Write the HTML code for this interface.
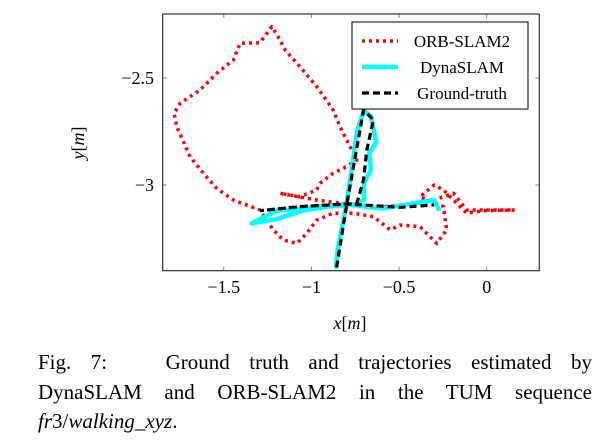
<!DOCTYPE html>
<html><head><meta charset="utf-8"><style>
body{margin:0;background:#fff;width:612px;height:446px;overflow:hidden;font-family:"Liberation Serif",serif;}
#cap{position:absolute;left:38px;top:348px;width:554px;font-size:21px;line-height:29.5px;color:#000;}
.jl{text-align:justify;text-align-last:justify;}
</style></head><body>
<svg id="chart" width="612" height="340" style="position:absolute;left:0;top:0" font-family="Liberation Serif, serif"></svg>
<div id="cap">
<div class="jl">Fig. 7:&nbsp;&nbsp; Ground truth and trajectories estimated by</div>
<div class="jl">DynaSLAM and ORB-SLAM2 in the TUM sequence</div>
<div><i>fr</i>3/<i>walking</i>_<i>xyz</i>.</div>
</div>
<script>
const xTicks=[-1.5,-1,-0.5,0];
const yTicks=[-2.5,-3];
const xTickLabels=["−1.5","−1","−0.5","0"];
const yTickLabels=["−2.5","−3"];
const orbX=[0.16,-0.02,-0.114,-0.19,-0.247,-0.30,-0.38,-0.247,-0.228,-0.285,-0.38,-0.494,-0.55,-0.646,-0.76,-0.875,-0.97,-1.027,-1.084,-1.16,-1.217,-1.293,-1.445,-1.54,-1.616,-1.692,-1.768,-1.783,-1.749,-1.635,-1.54,-1.445,-1.407,-1.293,-1.226,-1.179,-1.15,-1.065,-0.97,-0.875,-0.837,-0.741,-0.798,-0.875,-0.951,-0.97,-1.065,-1.179,-0.97,-0.76,-0.589,-0.38,-0.30,-0.19,-0.114,0.16];
const orbY=[-3.117,-3.12,-3.132,-3.07,-3.023,-3.0,-3.055,-3.1,-3.21,-3.273,-3.195,-3.187,-3.21,-3.148,-3.132,-3.132,-3.164,-3.226,-3.273,-3.257,-3.21,-3.117,-3.07,-3.016,-2.945,-2.868,-2.727,-2.665,-2.618,-2.556,-2.478,-2.416,-2.338,-2.335,-2.26,-2.322,-2.369,-2.447,-2.54,-2.65,-2.727,-2.883,-2.914,-2.945,-2.992,-3.023,-3.055,-3.039,-3.07,-3.093,-3.101,-3.085,-3.07,-3.039,-3.117,-3.117];
const gtX=[-0.856,-0.798,-0.76,-0.703,-0.646,-0.684,-0.703,-0.741,-1.065,-1.293,-1.065,-0.798,-0.494,-0.30];
const gtY=[-3.385,-3.089,-2.914,-2.65,-2.696,-2.836,-2.977,-3.086,-3.101,-3.12,-3.101,-3.089,-3.104,-3.093];
const dynX=[-0.86,-0.85,-0.8,-0.77,-0.74,-0.7,-0.66,-0.63,-0.67,-0.66,-0.7,-0.7,-0.74,-0.9,-1.05,-1.2,-1.34,-1.2,-1.05,-0.8,-0.6,-0.45,-0.3,-0.27];
const dynY=[-3.39,-3.3,-3.09,-2.93,-2.75,-2.65,-2.68,-2.8,-2.85,-2.93,-2.99,-3.07,-3.09,-3.1,-3.12,-3.16,-3.18,-3.12,-3.11,-3.09,-3.11,-3.09,-3.07,-3.12];
const svg=document.getElementById('chart');const NS="http://www.w3.org/2000/svg";
const L=162.7,R=539.3,T=14,B=270.7;
function sx(v){return 486.7+v*175.3;}
function sy(v){return 185-(v+3)*214;}
function mk(t,a,p){const e=document.createElementNS(NS,t);for(const k in a)e.setAttribute(k,a[k]);(p||svg).appendChild(e);return e;}
function pts(xs,ys){return xs.map((x,i)=>sx(x).toFixed(1)+","+sy(ys[i]).toFixed(1)).join(" ");}
xTicks.forEach((t,i)=>{
 const a=mk('line',{x1:sx(t),x2:sx(t),y1:B,y2:B-4,stroke:'#888'});
 const b=mk('line',{x1:sx(t),x2:sx(t),y1:T,y2:T+4,stroke:'#888'});
 const l=mk('text',{x:sx(t),y:293,'text-anchor':'middle','font-size':18});l.textContent=xTickLabels[i];
});
yTicks.forEach((t,i)=>{
 const a=mk('line',{x1:L,x2:L+4,y1:sy(t),y2:sy(t),stroke:'#888'});
 const b=mk('line',{x1:R,x2:R-4,y1:sy(t),y2:sy(t),stroke:'#888'});
 const l=mk('text',{x:154,y:sy(t)+6,'text-anchor':'end','font-size':18});l.textContent=yTickLabels[i];
});
const orb=mk('polyline',{points:pts(orbX,orbY),fill:'none',stroke:'#f00','stroke-width':3.5,'stroke-dasharray':'3 4','stroke-linejoin':'round'});

const dyn=mk('polyline',{points:pts(dynX,dynY),fill:'none',stroke:'#0ff','stroke-width':4.5,'stroke-linejoin':'round'});

const gt=mk('polyline',{points:pts(gtX,gtY),fill:'none',stroke:'#000','stroke-width':3.2,'stroke-dasharray':'7 4'});

const fr=mk('rect',{x:L,y:T,width:R-L,height:B-T,fill:'none',stroke:'#333','stroke-width':1.2});

const g=mk('g',{});
mk('rect',{x:352,y:22,width:176,height:87,fill:'#fff',stroke:'#000','stroke-width':1},g);
const leg=[["ORB-SLAM2","#f00",'3 4',3.5],["DynaSLAM","#0ff",'none',4.5],["Ground-truth","#000",'7 4',3.2]];
leg.forEach((e,i)=>{const y=41+i*26;
 const ln=mk('line',{x1:362,x2:398,y1:y,y2:y,stroke:e[1],'stroke-width':e[3],'stroke-dasharray':e[2]},g);
 const t=mk('text',{x:462,y:y+6,'text-anchor':'middle','font-size':17},g);t.textContent=e[0];});
const xl=mk('text',{x:350,y:329,'text-anchor':'middle','font-size':18});xl.innerHTML='<tspan font-style="italic">x</tspan>[<tspan font-style="italic">m</tspan>]';
const yl=mk('text',{x:0,y:0,'text-anchor':'middle','font-size':18,transform:'translate(84,143) rotate(-90)'});yl.innerHTML='<tspan font-style="italic">y</tspan>[<tspan font-style="italic">m</tspan>]';
</script>
</body></html>
